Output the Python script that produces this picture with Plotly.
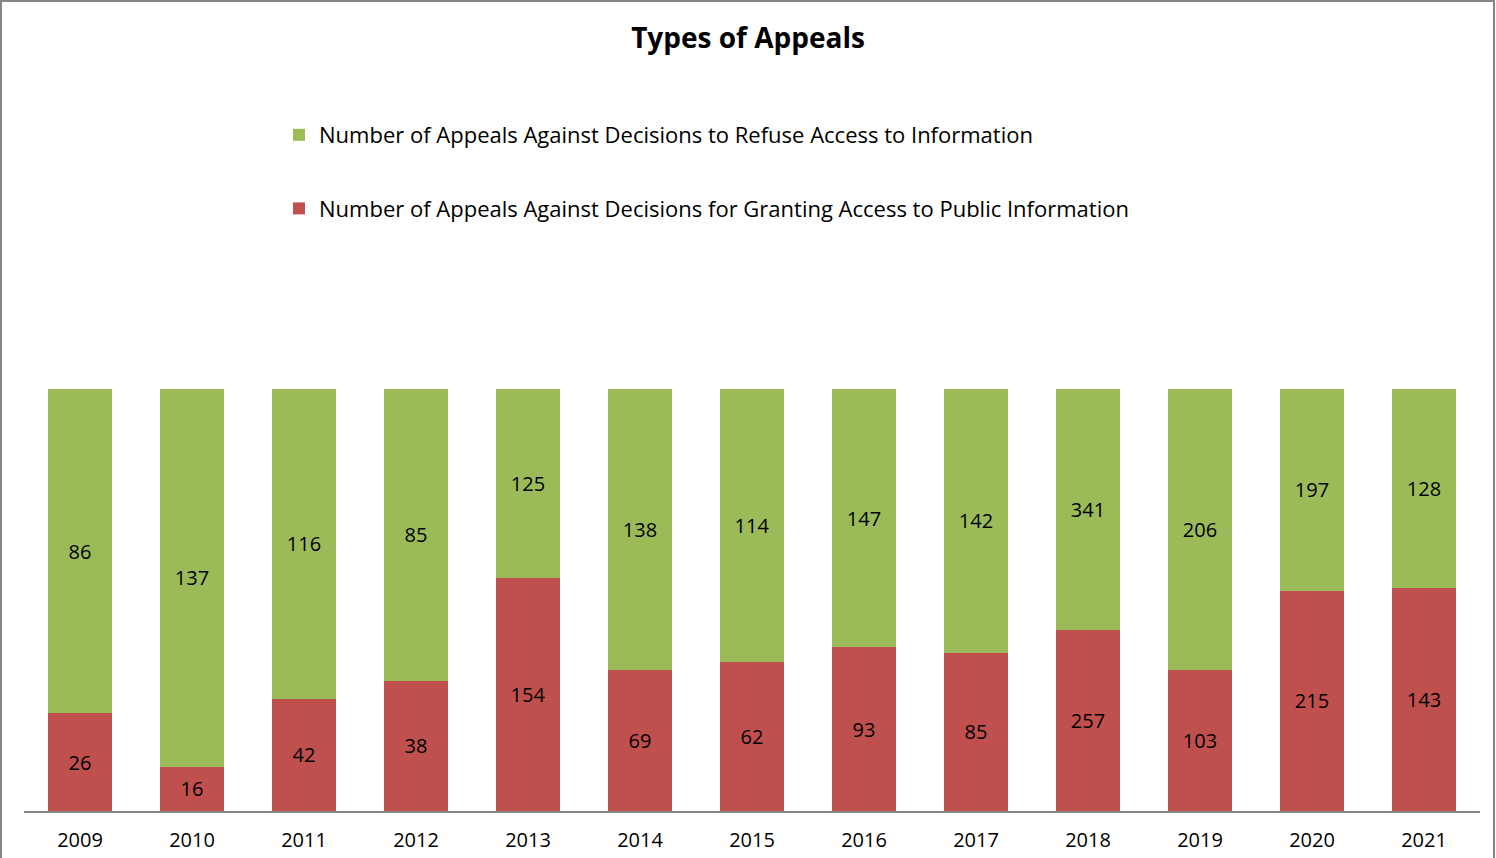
import plotly.graph_objects as go

years = ["2009", "2010", "2011", "2012", "2013", "2014", "2015",
         "2016", "2017", "2018", "2019", "2020", "2021"]
granting = [26, 16, 42, 38, 154, 69, 62, 93, 85, 257, 103, 215, 143]
refuse = [86, 137, 116, 85, 125, 138, 114, 147, 142, 341, 206, 197, 128]

name_refuse = "Number of Appeals Against Decisions to Refuse Access to Information"
name_grant = "Number of Appeals Against Decisions for Granting Access to Public Information"

W, H = 1496, 858
ml, mr, mt, mb = 24, 16, 389, 47
pw, ph = W - ml - mr, H - mt - mb

font_family = "Open Sans, Liberation Sans, sans-serif"

fig = go.Figure()
fig.add_trace(go.Bar(
    x=years, y=granting, name=name_grant, legendgroup="g", legendrank=2,
    marker=dict(color="#C0504D", line=dict(width=0)),
    text=granting, textposition="inside", insidetextanchor="middle",
    textangle=0, constraintext="none",
    textfont=dict(color="#000000", size=20, family=font_family),
    hoverinfo="x+y",
))
fig.add_trace(go.Bar(
    x=years, y=refuse, name=name_refuse, legendgroup="r", legendrank=1,
    marker=dict(color="#9BBB59", line=dict(width=0)),
    text=refuse, textposition="inside", insidetextanchor="middle",
    textangle=0, constraintext="none",
    textfont=dict(color="#000000", size=20, family=font_family),
    hoverinfo="x+y",
))

fig.update_layout(
    width=W, height=H,
    barmode="stack", barnorm="percent", bargap=0.43,
    paper_bgcolor="white", plot_bgcolor="white",
    margin=dict(l=ml, r=mr, t=mt, b=mb, pad=0),
    font=dict(family=font_family, color="#000000"),
    title=dict(text="<b>Types of Appeals</b>", x=0.5, xanchor="center",
               y=1 - 38 / H, yanchor="middle",
               font=dict(size=28, family=font_family, color="#000000")),
    showlegend=True,
    legend=dict(
        orientation="v", traceorder="grouped", tracegroupgap=42,
        x=(279 - ml) / pw, xanchor="left",
        y=(H - mb - 114) / ph, yanchor="top",
        font=dict(size=22, family=font_family, color="#000000"),
        bgcolor="rgba(0,0,0,0)", itemclick=False,
    ),
    xaxis=dict(
        showgrid=False, zeroline=False, showline=True,
        linecolor="#868686", linewidth=2, ticks="",
        ticklabelstandoff=10, automargin=False,
        tickfont=dict(size=20, family=font_family, color="#000000"),
        fixedrange=True,
    ),
    yaxis=dict(range=[0, 100], visible=False, fixedrange=True, automargin=False),
    shapes=[dict(
        type="rect", xref="paper", yref="paper",
        x0=(1 - ml) / pw, x1=(W - 2 - ml) / pw,
        y0=(mb - (H - 3)) / ph, y1=(H - 1 - mb) / ph,
        line=dict(color="#868686", width=2), fillcolor="rgba(0,0,0,0)",
        layer="below",
    )],
)

fig.write_html("out.html", config={"displayModeBar": False},
               post_script="document.body.style.margin='0';")
